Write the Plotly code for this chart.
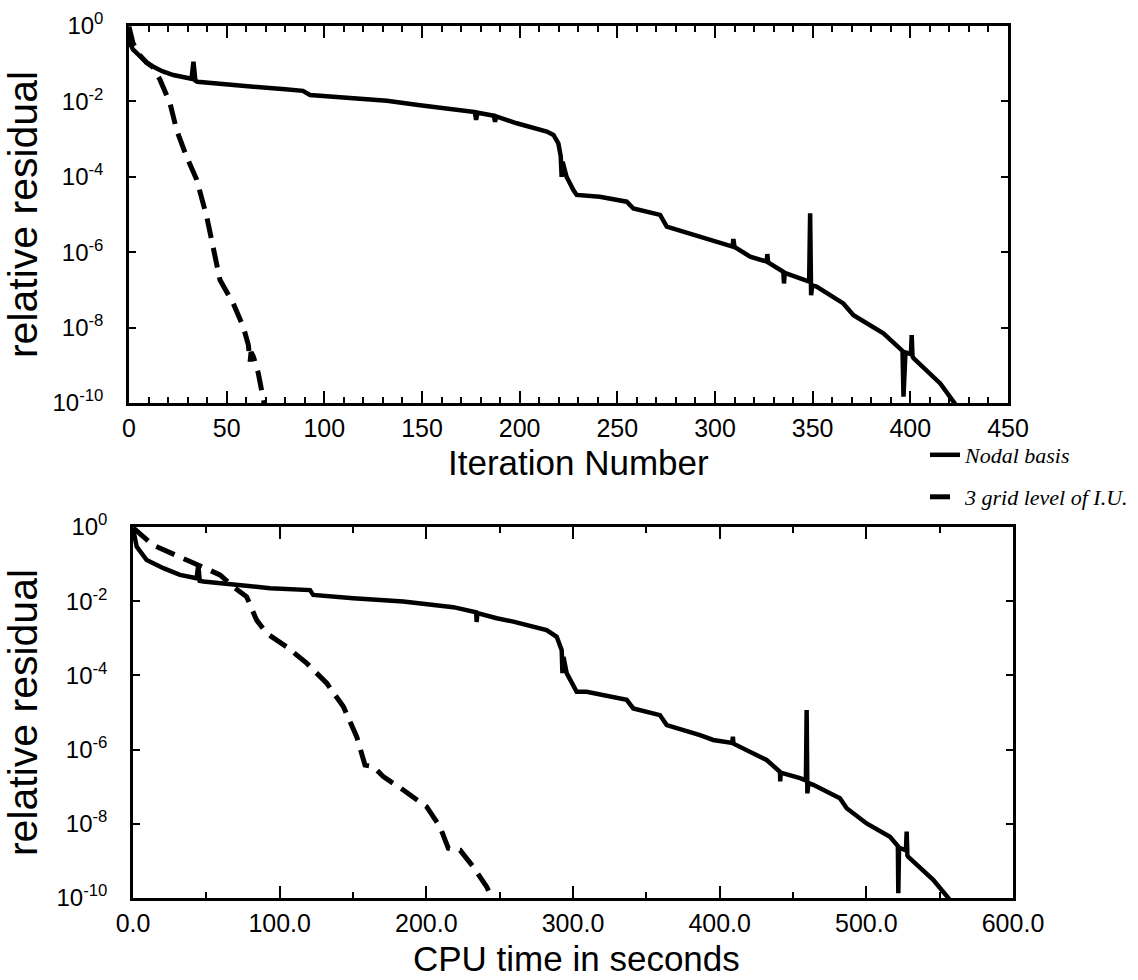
import numpy as np
import plotly.graph_objects as go

# ---------------- data ----------------
# Top panel: relative residual vs iteration number (log10 of residual)
nodal_iter_x = [0, 0.5, 2, 5.6, 9, 12.5, 17, 22.7, 28, 32, 33, 34, 35, 46.6, 63.7, 80, 89, 92.7,
                114.8, 132, 149, 155.8, 172.9, 177, 177.7, 178.4, 184.8, 186.8, 187.4, 188,
                198.5, 213.9, 217.3, 219.8, 221.0, 221.5, 222, 224, 227.5, 229.2, 241, 254.8,
                258.2, 271.9, 275.3, 292.4, 309, 309.4, 310, 318, 326.5, 326.8, 327.2, 335,
                335.3, 335.7, 345.3, 348.2, 348.7, 349.2, 349.8, 352, 365.7, 370.9, 386.2,
                396, 396.5, 397.5, 400.3, 400.7, 401.1, 401.6, 415.3, 422, 424]
nodal_iter_log = [-0.02, -0.45, -0.62, -0.81, -0.97, -1.08, -1.20, -1.30, -1.37, -1.40, -0.95,
                  -1.45, -1.48, -1.54, -1.61, -1.68, -1.72, -1.83, -1.92, -1.98, -2.10, -2.14,
                  -2.27, -2.28, -2.49, -2.30, -2.36, -2.38, -2.54, -2.40, -2.58, -2.80, -2.89,
                  -3.11, -3.45, -4.0, -3.6, -4.0, -4.35, -4.48, -4.53, -4.66, -4.84, -5.01,
                  -5.32, -5.59, -5.85, -5.65, -5.86, -6.12, -6.25, -6.05, -6.27, -6.52, -6.83,
                  -6.55, -6.74, -6.78, -4.97, -7.14, -6.88, -6.91, -7.36, -7.67, -8.15, -8.62,
                  -9.83, -8.66, -8.70, -8.20, -8.76, -8.81, -9.48, -9.97, -10.1]

iu_iter_x = [0, 2, 5.6, 9, 12.5, 15.9, 21, 24.4, 29.5, 34.7, 39.8, 43.2, 46.6, 53.4, 58.5, 61.1,
             62, 62.5, 63.7, 66.2, 68.8, 69.5]
iu_iter_log = [-0.02, -0.45, -0.78, -0.97, -1.10, -1.43, -2.05, -2.76, -3.47, -4.08, -5.06, -5.85,
               -6.74, -7.36, -7.98, -8.46, -8.9, -8.65, -8.77, -9.21, -9.83, -10.1]

# Bottom panel: relative residual vs CPU time in seconds (log10 of residual)
nodal_cpu_x = [0, 2.5, 9.3, 20.7, 32, 43.4, 44.5, 45.5, 48, 70.7, 93.4, 120.7, 122.9, 150.2,
               184.3, 218.4, 234, 234.3, 234.8, 248, 259.3, 282, 288.9, 292.3, 292.8, 293.5,
               295.7, 302.5, 309.3, 336.6, 341.1, 359.3, 363.9, 386.6, 395.6, 408.6, 409, 409.4,
               432, 441.1, 441.3, 441.6, 454.8, 458.8, 459.3, 459.8, 460.5, 463.8, 482, 486.6,
               500.2, 516.1, 521.5, 521.8, 522.3, 527, 527.5, 528, 528.6, 545.6, 555.9, 558]
nodal_cpu_log = [-0.04, -0.53, -0.89, -1.11, -1.29, -1.38, -1.02, -1.45, -1.47, -1.56, -1.65,
                 -1.70, -1.83, -1.92, -2.01, -2.16, -2.30, -2.56, -2.32, -2.46, -2.55, -2.78,
                 -2.96, -3.32, -3.94, -3.5, -3.94, -4.44, -4.44, -4.66, -4.89, -5.07, -5.34,
                 -5.61, -5.74, -5.82, -5.65, -5.84, -6.28, -6.60, -6.86, -6.62, -6.77, -6.83,
                 -4.93, -7.18, -6.90, -6.95, -7.31, -7.58, -7.99, -8.35, -8.60, -9.87, -8.64,
                 -8.72, -8.21, -8.85, -8.89, -9.51, -10.0, -10.1]

iu_cpu_x = [0, 13.8, 36.6, 59.3, 68.4, 77.5, 84.3, 91.2, 104.8, 118.4, 132.1, 143.4, 152.5,
            158.2, 163.9, 170.7, 184.3, 200.2, 209.3, 215, 223, 232, 241.2, 244.6, 245.5]
iu_cpu_log = [-0.02, -0.49, -0.89, -1.29, -1.61, -1.88, -2.51, -2.87, -3.23, -3.67, -4.21,
              -4.84, -5.65, -6.42, -6.46, -6.73, -7.09, -7.54, -8.08, -8.66, -8.71, -9.16,
              -9.70, -10.0, -10.1]

series_names = ["Nodal basis", "3 grid level of I.U."]
ytick_vals = [1e0, 1e-2, 1e-4, 1e-6, 1e-8, 1e-10]
ytick_text = ["10<sup>0</sup>", "10<sup>-2</sup>", "10<sup>-4</sup>", "10<sup>-6</sup>",
              "10<sup>-8</sup>", "10<sup>-10</sup>"]
x_title_top = "Iteration Number"
x_title_bottom = "CPU time in seconds"
y_title = "relative residual"

# ---------------- figure ----------------
W, H = 1138, 980
SANS = "Liberation Sans, Arial, Helvetica"
XTICKFONT = dict(family=SANS, size=25, color="black")
YTICKFONT = dict(family=SANS, size=24, color="black")
solid = dict(color="black", width=4.5)
dashed = dict(color="black", width=5, dash="20px,10px")
LEGFONT = dict(family="Liberation Serif, Times New Roman, serif", size=22,
               style="italic", color="black")

fig = go.Figure()
fig.add_trace(go.Scatter(x=nodal_iter_x, y=10 ** np.array(nodal_iter_log), mode="lines",
                         line=solid, name=series_names[0], legend="legend",
                         xaxis="x", yaxis="y"))
fig.add_trace(go.Scatter(x=iu_iter_x, y=10 ** np.array(iu_iter_log), mode="lines",
                         line=dashed, name=series_names[1], legend="legend2",
                         xaxis="x", yaxis="y"))
fig.add_trace(go.Scatter(x=nodal_cpu_x, y=10 ** np.array(nodal_cpu_log), mode="lines",
                         line=solid, name=series_names[0], showlegend=False,
                         xaxis="x2", yaxis="y2"))
fig.add_trace(go.Scatter(x=iu_cpu_x, y=10 ** np.array(iu_cpu_log), mode="lines",
                         line=dashed, name=series_names[1], showlegend=False,
                         xaxis="x2", yaxis="y2"))

def xax(domain, anchor, rng, dtick, minor_dtick, fmt):
    return dict(domain=domain, anchor=anchor, range=rng, dtick=dtick, tick0=0,
                tickformat=fmt, ticks="inside", ticklen=12, tickwidth=2, tickcolor="black",
                minor=dict(dtick=minor_dtick, tick0=0, ticks="inside", ticklen=6,
                           tickwidth=2, tickcolor="black", showgrid=False),
                showline=True, linecolor="black", linewidth=2.5, mirror="ticks",
                showgrid=False, zeroline=False, tickfont=XTICKFONT, automargin=False,
                ticklabelstandoff=1)

def yax(domain, anchor):
    return dict(domain=domain, anchor=anchor, type="log", range=[-10, 0],
                tickvals=ytick_vals, ticktext=ytick_text,
                ticks="inside", ticklen=7, tickwidth=2, tickcolor="black",
                showline=True, linecolor="black", linewidth=2.5, mirror="ticks",
                showgrid=False, zeroline=False, tickfont=YTICKFONT, automargin=False,
                ticklabelstandoff=18,
                title=dict(text=y_title, font=dict(family=SANS, size=41, color="black")))

fig.update_layout(
    width=W, height=H,
    margin=dict(l=0, r=0, t=0, b=0, autoexpand=False),
    paper_bgcolor="white", plot_bgcolor="white",
    xaxis=xax([129 / W, 1008 / W], "y", [0, 450], 50, 10, "d"),
    yaxis=yax([1 - 403 / H, 1 - 26 / H], "x"),
    xaxis2=xax([133 / W, 1013 / W], "y2", [0, 600], 100, 50, ".1f"),
    yaxis2=yax([1 - 898 / H, 1 - 527 / H], "x2"),
    legend=dict(x=925 / W, y=1 - 455 / H, xanchor="left", yanchor="middle",
                bgcolor="rgba(0,0,0,0)", borderwidth=0, font=LEGFONT),
    legend2=dict(x=925 / W, y=1 - 497 / H, xanchor="left", yanchor="middle",
                 bgcolor="rgba(0,0,0,0)", borderwidth=0, font=LEGFONT),
    showlegend=True,
    annotations=[
        dict(text=x_title_top, xref="paper", yref="paper", x=578 / W, y=1 - 462 / H,
             xanchor="center", yanchor="middle", showarrow=False, borderpad=0,
             font=dict(family=SANS, size=35, color="black")),
        dict(text=x_title_bottom, xref="paper", yref="paper", x=576 / W, y=1 - 958 / H,
             xanchor="center", yanchor="middle", showarrow=False, borderpad=0,
             font=dict(family=SANS, size=35, color="black")),
    ],
)

fig.write_html("out.html")
